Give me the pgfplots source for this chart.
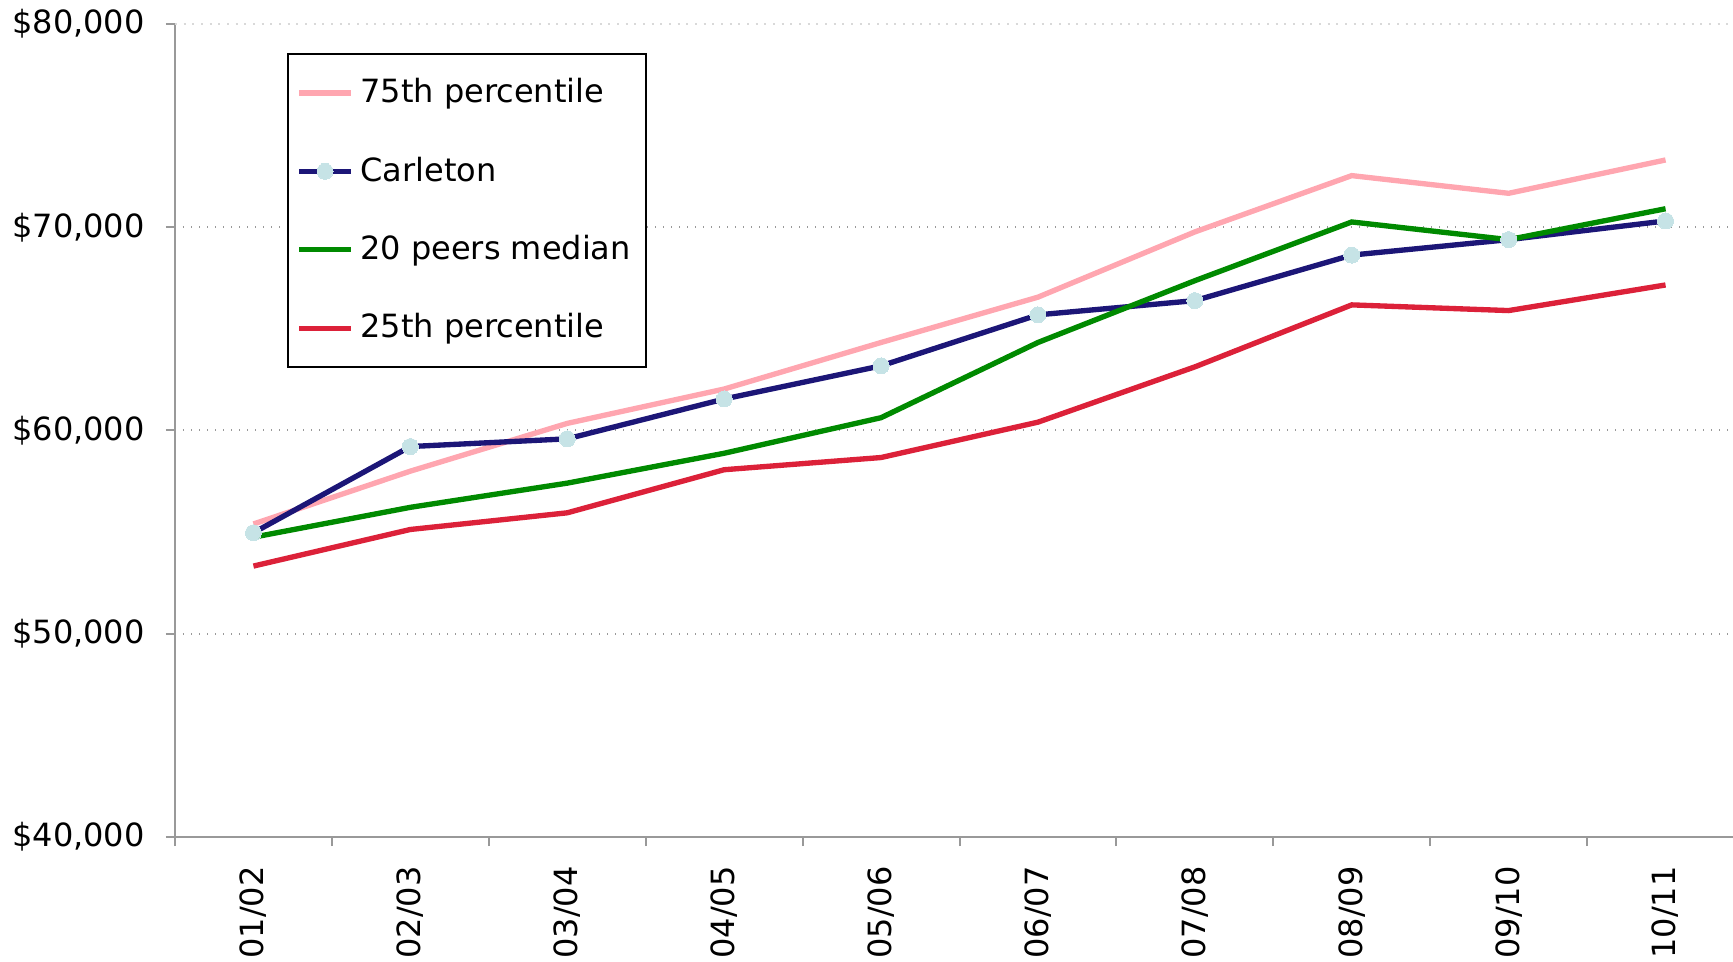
\documentclass[border=0pt]{standalone}
\usepackage{fontspec}
\setmainfont{DejaVu Sans}
\usepackage{pgfplots}
\pgfplotsset{compat=1.18}

\definecolor{pinkline}{HTML}{FFA6B0}
\definecolor{navyline}{HTML}{1C1677}
\definecolor{greenline}{HTML}{008A00}
\definecolor{redline}{HTML}{DC2139}
\definecolor{dotfill}{HTML}{C6E3E6}

\begin{document}
\fontsize{9.6pt}{11.5pt}\selectfont
\begin{tikzpicture}
\begin{axis}[
  name=ax,
  scale only axis,
  width=467.4pt, height=243.9pt,
  xmin=-0.5, xmax=9.43,
  ymin=40000, ymax=80000,
  axis x line*=bottom, axis y line*=left,
  axis line style={gray!80, line width=0.6pt, -},
  xtick={0,...,9},
  xticklabels={01/02,02/03,03/04,04/05,05/06,06/07,07/08,08/09,09/10,10/11},
  major x tick style={draw=none},
  minor xtick={-0.5,0.5,...,8.5},
  minor tick length=2.7pt,
  xtick align=outside, ytick align=outside,
  major tick length=2.7pt,
  tick style={gray!80, line width=0.6pt},
  % rotated labels: xshift moves them vertically on the page
  xticklabel style={rotate=90, anchor=east, xshift=-2.7pt, font=\fontsize{9.6pt}{11.5pt}\selectfont},
  ytick={40000,50000,60000,70000},
  extra y ticks={80000},
  extra y tick style={grid style={gray!30, dotted, line width=0.6pt}},
  scaled y ticks=false,
  yticklabel={\$\pgfmathprintnumber[assume math mode=true, fixed, 1000 sep={,}]{\tick}},
  yticklabel style={xshift=-3pt, font=\fontsize{9.6pt}{11.5pt}\selectfont},
  ymajorgrids,
  grid style={gray!80, dotted, line width=0.6pt},
  legend cell align=left,
  legend style={at={(0,1)}, anchor=north west, xshift=33.6pt, yshift=-8.7pt,
    draw=black, line width=0.6pt, inner xsep=2.5pt, inner ysep=5.3pt,
    row sep=10.8pt, font=\fontsize{9.6pt}{11.5pt}\selectfont},
  legend image code/.code={
    \draw[#1, mark repeat=2, mark phase=2] plot coordinates {(0pt,0pt) (7.8pt,0pt) (15.6pt,0pt)};
  },
  every axis plot/.append style={line width=1.6pt},
]
\addplot[pinkline, no markers] coordinates {
(0,55400) (1,58000) (2,60350) (3,62040) (4,64330) (5,66560) (6,69770) (7,72540) (8,71670) (9,73310)};
\addlegendentry{75th percentile}
\addplot[navyline, mark=*, mark size=2.4pt, mark options={solid, fill=dotfill, draw=dotfill, line width=0pt}] coordinates {
(0,54970) (1,59210) (2,59590) (3,61550) (4,63180) (5,65690) (6,66390) (7,68630) (8,69390) (9,70310)};
\addlegendentry{Carleton}
\addplot[greenline, no markers] coordinates {
(0,54750) (1,56220) (2,57410) (3,58880) (4,60630) (5,64330) (6,67370) (7,70260) (8,69390) (9,70910)};
\addlegendentry{20 peers median}
\addplot[redline, no markers] coordinates {
(0,53330) (1,55130) (2,55950) (3,58070) (4,58670) (5,60410) (6,63130) (7,66180) (8,65900) (9,67160)};
\addlegendentry{25th percentile}
\end{axis}
\pgfresetboundingbox
\path ([xshift=-52.5pt, yshift=-37.2pt]ax.south west) rectangle ([yshift=7.2pt]ax.north east);
\end{tikzpicture}
\end{document}
